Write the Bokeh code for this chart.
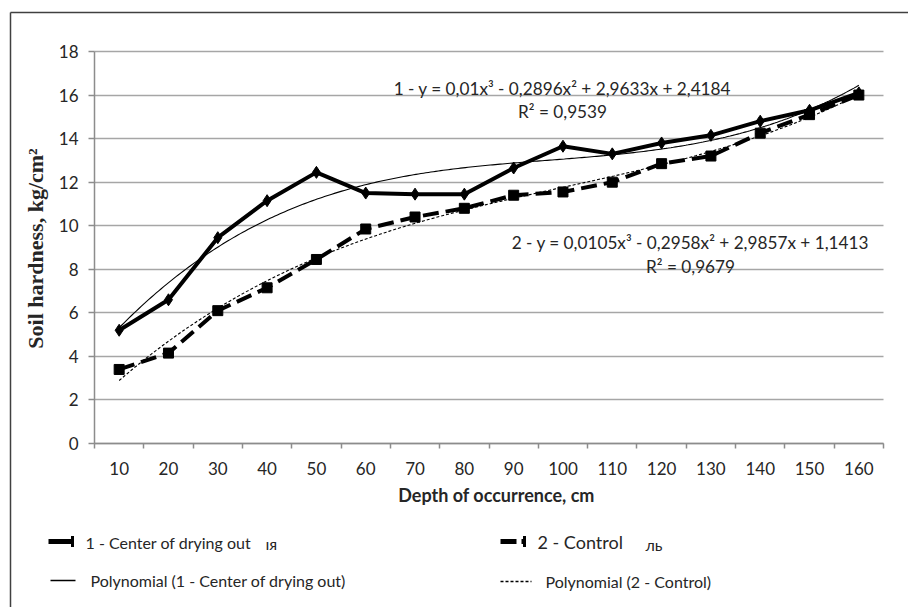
import numpy as np
from bokeh.plotting import figure
from bokeh.models import Range1d, FixedTicker, Label, Arrow, TeeHead
from bokeh.embed import file_html
from bokeh.resources import INLINE

# --- data -------------------------------------------------------------
depth = [10, 20, 30, 40, 50, 60, 70, 80, 90, 100, 110, 120, 130, 140, 150, 160]
center_drying = [5.2, 6.6, 9.45, 11.15, 12.45, 11.5, 11.45, 11.45,
                 12.65, 13.65, 13.3, 13.8, 14.15, 14.8, 15.3, 16.1]
control = [3.4, 4.15, 6.1, 7.15, 8.45, 9.85, 10.4, 10.8,
           11.4, 11.55, 12.0, 12.85, 13.2, 14.25, 15.1, 16.0]
y_ticks = [0, 2, 4, 6, 8, 10, 12, 14, 16, 18]

series1_name = "1 - Center of drying out"
series2_name = "2 - Control"
trend1_name = "Polynomial (1 - Center of drying out)"
trend2_name = "Polynomial (2 - Control)"
eq1 = "1 - y = 0,01x³ - 0,2896x² + 2,9633x + 2,4184"
r2_1 = "R² = 0,9539"
eq2 = "2 - y = 0,0105x³ - 0,2958x² + 2,9857x + 1,1413"
r2_2 = "R² = 0,9679"

# --- geometry ---------------------------------------------------------
# The frame covers the whole canvas; the axes sit at fixed data
# locations so that titles, legend and border can be drawn around them.
W, H = 908, 607
LEFT, RIGHT, TOP, BOTTOM = 94, 25, 51, 164     # plot area inset (px)
FW = W - LEFT - RIGHT
FH = H - TOP - BOTTOM
NCAT = len(depth)
YMAX = y_ticks[-1]
KX = NCAT / FW          # data units per pixel
KY = YMAX / FH

X0, X1 = 0.5, NCAT + 0.5


def sx(px):
    """canvas pixel x -> data x"""
    return X0 + (px - LEFT) * KX


def sy(py):
    """canvas pixel y -> data y"""
    return (H - BOTTOM - py) * KY


TXT = "#262626"
GRID = "#a6a6a6"
AXIS = "#8c8c8c"

p = figure(width=W, height=H,
           x_range=Range1d(sx(0), sx(W)), y_range=Range1d(sy(H), sy(0)),
           output_backend="svg", toolbar_location=None)
p.min_border = 0
p.title.visible = False
p.outline_line_color = None
p.background_fill_color = "white"
p.border_fill_color = "white"

xpos = list(range(1, NCAT + 1))

# x axis: labels at category centres, ticks between categories
p.xaxis.fixed_location = 0
p.xaxis.bounds = (X0, X1)
p.xaxis.ticker = FixedTicker(ticks=xpos,
                             minor_ticks=[i + 0.5 for i in range(NCAT + 1)])
p.xaxis.major_label_overrides = {x: str(d) for x, d in zip(xpos, depth)}
p.xaxis.major_tick_line_color = None
p.xaxis.minor_tick_line_color = AXIS
p.xaxis.minor_tick_line_width = 1.5
p.xaxis.minor_tick_in = 0
p.xaxis.minor_tick_out = 5
p.xaxis.major_label_standoff = 12

p.yaxis.fixed_location = X0
p.yaxis.bounds = (0, YMAX)
p.yaxis.ticker = FixedTicker(ticks=y_ticks)
p.yaxis.major_tick_line_color = AXIS
p.yaxis.major_tick_line_width = 1.5
p.yaxis.major_tick_in = 0
p.yaxis.major_tick_out = 6
p.yaxis.minor_tick_line_color = None
p.yaxis.major_label_standoff = 10

for ax in (p.xaxis, p.yaxis):
    ax.axis_line_color = AXIS
    ax.axis_line_width = 1.5
    ax.major_label_text_font = "Lato"
    ax.major_label_text_font_size = "17px"
    ax.major_label_text_color = TXT

p.xgrid.visible = False
p.ygrid.grid_line_color = GRID
p.ygrid.grid_line_width = 1.5
p.ygrid.bounds = (0, YMAX)
p.ygrid.cross_bounds = (X0, X1)

# polynomial (3rd order) trend lines fitted to each series
xf = np.linspace(1, NCAT, 300)
c1 = np.polyfit(xpos, center_drying, 3)
c2 = np.polyfit(xpos, control, 3)
p.line(xf, np.polyval(c1, xf), line_color="black", line_width=1.1)
p.line(xf, np.polyval(c2, xf), line_color="black", line_width=1.1,
       line_dash="3 2")

# measured series
p.line(xpos, control, line_color="black", line_width=4, line_dash="16 7")
p.scatter(xpos, control, marker="square", size=10, fill_color="black",
          line_color="black")
p.line(xpos, center_drying, line_color="black", line_width=4)
p.scatter(xpos, center_drying, marker="diamond", size=12,
          fill_color="black", line_color="black")


def label(px, py, text, size="14px", align="left", bold=False,
          font="Lato", angle=0.0):
    p.add_layout(Label(x=sx(px), y=sy(py), text=text, text_font=font,
                       text_font_size=size, text_color=TXT,
                       text_align=align, text_baseline="middle",
                       text_font_style="bold" if bold else "normal",
                       angle=angle))


def seg(px0, py0, px1, py1, width=1.0, dash="solid", color="black",
        end=None):
    p.add_layout(Arrow(x_start=sx(px0), y_start=sy(py0), x_end=sx(px1),
                       y_end=sy(py1), line_color=color, line_width=width,
                       line_dash=dash, end=end))


# trend equations
label(562, 88, eq1, size="17.2px", align="center")
label(562, 111, r2_1, size="17.2px", align="center")
label(690, 242, eq2, size="17.2px", align="center")
label(690, 266, r2_2, size="17.2px", align="center")

# axis titles
label(35, 248, "Soil hardness, kg/cm²", size="22px", align="center",
      bold=True, font="Liberation Serif", angle=np.pi / 2)
label(496, 494, "Depth of occurrence, cm", size="18px", align="center",
      bold=True)

# legend
seg(48, 541, 72, 541, width=5,
    end=TeeHead(size=11, line_width=3, line_color="black"))
label(85, 542, series1_name, size="16px")
label(265, 543, "ıя", size="16px")
seg(500, 541, 524, 541, width=5, dash="16 5",
    end=TeeHead(size=11, line_width=3, line_color="black"))
label(537, 541, series2_name, size="18px")
label(645, 544, "ль", size="16px")
seg(50, 580, 75, 580, width=1.3)
label(90, 580, trend1_name, size="16px")
seg(500, 581, 531, 581, width=1.3, dash="3 2")
label(545, 581, trend2_name, size="16px")

# outer chart border (top and left edges)
seg(10, 12, W, 12, width=1.5, color="#404040")
seg(10, 12, 10, H, width=1.5, color="#404040")

open("out.html", "w").write(file_html(p, INLINE))
